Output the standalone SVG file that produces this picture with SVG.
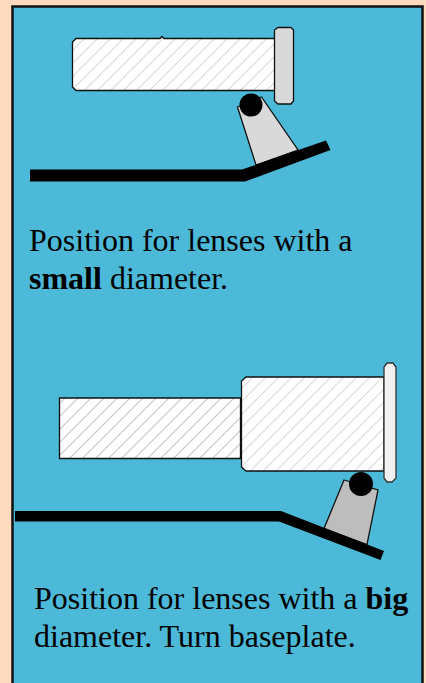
<svg xmlns="http://www.w3.org/2000/svg" width="426" height="683" viewBox="0 0 426 683">
<style>
text{font-family:"Liberation Serif","Times New Roman",serif;font-size:32px;fill:#000}
.b{font-weight:bold}
.o{stroke:#111;stroke-width:1.3}
</style>
<defs>
<pattern id="h" width="13" height="13" patternUnits="userSpaceOnUse" patternTransform="translate(3 3)">
<rect width="13" height="13" fill="#fff"/>
<path d="M-1 14L14 -1M-4 4L4 -4M9 17L17 9" stroke="#dcdcdc" stroke-width="1.2" fill="none"/>
</pattern>
<pattern id="d" width="13" height="13" patternUnits="userSpaceOnUse" patternTransform="translate(7 1)">
<rect width="13" height="13" fill="#fff"/>
<path d="M-1 14L14 -1M-4 4L4 -4M9 17L17 9" stroke="#c8c8c8" stroke-width="1.200" fill="none"/>
</pattern>
</defs>
<rect width="426" height="683" fill="#fdd9bd"/>
<rect x="12.500" y="6.500" width="410" height="690" fill="#4bb9d7" stroke="#111" stroke-width="2.500"/>
<g id="lens-small">
<path class="o" d="M76 38.500H160L162 36.500L164 38.500H275V90.500H76L72.500 87V42Z" fill="url(#h)"/>
<path class="o" d="M278 27.500H291L293.500 30V101L291 104H278L274.500 101V30Z" fill="#d9d9d9"/>
</g>
<g id="mount-small">
<path class="o" d="M237.500 107L261.500 97L298 150L256 165Z" fill="#d9d9d9"/>
<circle cx="251" cy="105" r="11.500" fill="#000"/>
</g>
<g id="baseplate-small">
<path d="M30 169.500H242L326 140.500L330.500 150L245 181.500H30Z" fill="#000"/>
</g>
<text x="29" y="251">Position for lenses with a</text>
<text x="29" y="289"><tspan class="b">small</tspan> diameter.</text>
<g id="lens-big">
<path class="o" d="M59.500 398H240.500V458.500H59.500Z" fill="url(#d)"/>
<path class="o" d="M246 377H384V471H246L241.500 467V381Z" fill="url(#h)"/>
<path d="M387 363H393L396 367V478L392 482H387L384 478V367Z" fill="#f0f0f0" stroke="#333" stroke-width="1.300"/>
</g>
<g id="mount-big">
<path class="o" d="M344 480L378 490L367 544.500L324 528.500Z" fill="#bdbdbd"/>
<circle cx="361" cy="484" r="12" fill="#000"/>
</g>
<g id="baseplate-big">
<path d="M15 511H281L384 551L380.500 560L279 521.500H15Z" fill="#000"/>
</g>
<text x="34" y="609">Position for lenses with a <tspan class="b">big</tspan></text>
<text x="34" y="647">diameter. Turn baseplate.</text>
</svg>
